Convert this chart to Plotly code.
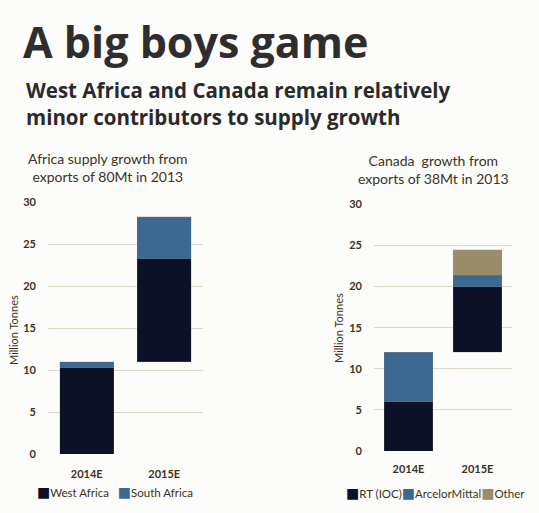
import plotly.graph_objects as go

W, H = 539, 513

categories = ["2014E", "2015E"]
africa_base = [0, 11.0]
west_africa = [10.3, 12.3]
south_africa = [0.7, 5.0]
canada_base = [0, 12.0]
rt_ioc = [6.0, 8.0]
arcelor = [6.0, 1.4]
other = [0, 3.1]
y_ticks = [0, 5, 10, 15, 20, 25, 30]

left_series = ["West Africa", "South Africa"]
right_series = ["RT (IOC)", "ArcelorMittal", "Other"]

C_DARK = "#0c1128"
C_BLUE = "#3c6991"
C_KHAKI = "#9b8d6c"
TXT = "#3b3320"
GRID = "#ddd8c8"
FONT = "Lato"


def px_x(p):
    return p / W


def px_y(p):
    return 1 - p / H


fig = go.Figure()


def bar(x, y, name, color, xa, ya, visible_mark=True):
    fig.add_trace(go.Bar(
        x=x, y=y, name=name, xaxis=xa, yaxis=ya,
        marker=dict(color=color,
                    line=dict(color="rgba(130,130,130,0.35)" if visible_mark else "rgba(0,0,0,0)",
                              width=0.6)),
        showlegend=False, hoverinfo="skip" if not visible_mark else None,
    ))


# left chart (invisible base + stacked segments)
bar(categories, africa_base, "base", "rgba(0,0,0,0)", "x", "y", False)
bar(categories, west_africa, left_series[0], C_DARK, "x", "y")
bar(categories, south_africa, left_series[1], C_BLUE, "x", "y")
# right chart
bar(categories, canada_base, "base", "rgba(0,0,0,0)", "x2", "y2", False)
bar(categories, rt_ioc, right_series[0], C_DARK, "x2", "y2")
bar(categories, arcelor, right_series[1], C_BLUE, "x2", "y2")
bar(categories, other, right_series[2], C_KHAKI, "x2", "y2")

tickfont = dict(family=FONT, size=11, color=TXT, weight="bold")


def xaxis(domain, anchor, standoff):
    return dict(domain=domain, anchor=anchor, showgrid=False, ticks="", showline=False,
                zeroline=False, automargin=False, tickfont=tickfont, ticklabelstandoff=standoff)


def yaxis(domain, anchor):
    return dict(domain=domain, anchor=anchor, range=[0, 30], tickvals=y_ticks,
                showgrid=True, gridcolor=GRID, gridwidth=1.3, zeroline=False,
                ticklabelstandoff=11, automargin=False, tickfont=tickfont)


fig.update_layout(
    width=W, height=H, autosize=False,
    margin=dict(l=0, r=0, t=0, b=0),
    paper_bgcolor="#fcfcfb", plot_bgcolor="rgba(0,0,0,0)",
    barmode="stack", bargap=0.3,
    font=dict(family=FONT, color=TXT),
    showlegend=False,
    xaxis=xaxis([px_x(48), px_x(203)], "y", 12),
    yaxis=yaxis([px_y(454), px_y(202.3)], "x"),
    xaxis2=xaxis([px_x(374), px_x(512)], "y2", 10),
    yaxis2=yaxis([px_y(451), px_y(204.3)], "x2"),
)


def ann(text, x, y, size, xanchor="left", yanchor="top", align="left", family=FONT,
        color=TXT, weight="normal", angle=0):
    fig.add_annotation(text=text, x=px_x(x), y=px_y(y), xref="paper", yref="paper",
                       xanchor=xanchor, yanchor=yanchor, align=align, showarrow=False,
                       textangle=angle,
                       font=dict(family=family, size=size, color=color, weight=weight))


ann("A big boys game", 21, 10, 43, family="Open Sans", color="#2e2e2e", weight="bold")
ann("West Africa and Canada remain relatively<br>minor contributors to supply growth",
    24, 74, 20.5, family="Open Sans", color="#2a2a2a", weight="bold")
ann("Africa supply growth from<br>exports of 80Mt in 2013", 108, 148, 14,
    xanchor="center", align="center")
ann("Canada  growth from<br>exports of 38Mt in 2013", 433, 150, 14,
    xanchor="center", align="center")

# rotated y-axis titles
ann("Million Tonnes", 13, 330, 11, xanchor="center", yanchor="middle", angle=-90)
ann("Million Tonnes", 338, 328, 11, xanchor="center", yanchor="middle", angle=-90)


def legend_text(names, colors, sep):
    parts = []
    for n, c in zip(names, colors):
        parts.append(f"<span style='color:{c};font-family:DejaVu Sans;font-size:14px'>■</span>{n}")
    return sep.join(parts)


ann(legend_text(left_series, [C_DARK, C_BLUE], "   "), 35, 492, 11.5, yanchor="middle")
ann(legend_text(right_series, [C_DARK, C_BLUE, C_KHAKI], ""), 344, 493, 11.5, yanchor="middle")

fig.write_html("out.html", config={"displayModeBar": False},
               post_script="document.body.style.margin='0';document.body.style.overflow='hidden';")
